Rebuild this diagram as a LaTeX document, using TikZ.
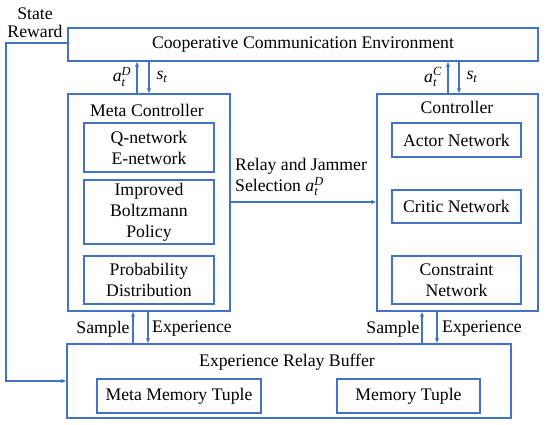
\documentclass[tikz,border=0pt]{standalone}
\usepackage{amsmath}
\usepackage{fontspec}
\setmainfont{LiberationSerif}[Extension=.ttf,UprightFont=*-Regular,ItalicFont=*-Italic,BoldFont=*-Bold,BoldItalicFont=*-BoldItalic]
\usetikzlibrary{arrows.meta,calc}
\definecolor{lineblue}{RGB}{68,114,196}
\begin{document}
\begin{tikzpicture}[x=1pt,y=-1pt,
  font=\rmfamily\fontsize{17.7}{21}\selectfont,
  box/.style={draw=lineblue,line width=1.2pt,rectangle,inner sep=0pt,align=center},
  arr/.style={draw=lineblue,line width=1.2pt,-{Latex[length=5pt,width=4.5pt]}},
  lbl/.style={inner sep=0pt,align=center}]
\useasboundingbox (0,0) rectangle (550,425);
% boxes
\node[box,minimum width=470pt,minimum height=33pt] (env) at (303,44.5) {Cooperative Communication Environment};
\node[box,minimum width=162pt,minimum height=217pt] (meta) at (149,202.5) {};
\node[lbl] (metat) at (147,110) {Meta Controller};
\node[box,minimum width=130pt,minimum height=49pt] (qnet) at (149,147.5) {Q-network\\E-network};
\node[box,minimum width=130pt,minimum height=64pt] (boltz) at (149,212) {Improved\\Boltzmann\\Policy};
\node[box,minimum width=130pt,minimum height=48pt] (prob) at (149,280) {Probability\\Distribution};
\node[box,minimum width=161pt,minimum height=217pt] (ctrl) at (457.5,202.5) {};
\node[lbl] (ctrlt) at (457,107) {Controller};
\node[box,minimum width=129pt,minimum height=34pt] (actor) at (456.5,140) {Actor Network};
\node[box,minimum width=129pt,minimum height=33pt] (critic) at (456.5,206.5) {Critic Network};
\node[box,minimum width=129pt,minimum height=48pt] (cons) at (456.5,280) {Constraint\\Network};
\node[box,minimum width=444pt,minimum height=74pt] (buf) at (289,381) {};
\node[lbl] (buft) at (287,362) {Experience Relay Buffer};
\node[box,minimum width=164pt,minimum height=34pt] (mmem) at (179,396) {Meta Memory Tuple};
\node[box,minimum width=143pt,minimum height=34pt] (mem) at (408.5,396) {Memory Tuple};
% top arrows
\draw[arr] ([xshift=-12pt]meta.north) -- ([xshift=-12pt]meta.north |- env.south);
\draw[arr] (meta.north |- env.south) -- (meta.north);
\draw[arr] ([xshift=-9.5pt]ctrl.north) -- ([xshift=-9.5pt]ctrl.north |- env.south);
\draw[arr] ([xshift=1.5pt]ctrl.north |- env.south) -- ([xshift=1.5pt]ctrl.north);
\node[lbl] (aD) at (122,77) {$\textit{a}_{\textit{t}}^{\textit{D}}$};
\node[lbl] (s1) at (162,77) {$\textit{s}_{\textit{t}}$};
\node[lbl] (aC) at (433,77) {$\textit{a}_{\textit{t}}^{\textit{C}}$};
\node[lbl] (s2) at (472,77) {$\textit{s}_{\textit{t}}$};
% middle arrow
\draw[arr] (meta.east |- 0,202) -- (ctrl.west |- 0,202);
\node[lbl,anchor=west,align=left] (rel) at (235,177) {Relay and Jammer\\Selection $\textit{a}_{\textit{t}}^{\textit{D}}$};
% bottom arrows
\draw[arr] (133,0 |- buf.north) -- (133,0 |- meta.south);
\draw[arr] (148,0 |- meta.south) -- (148,0 |- buf.north);
\draw[arr] (422,0 |- buf.north) -- (422,0 |- ctrl.south);
\draw[arr] (437,0 |- ctrl.south) -- (437,0 |- buf.north);
\node[lbl] (sm1) at (103,329) {Sample};
\node[lbl] (ex1) at (192,329) {Experience};
\node[lbl] (sm2) at (393,329) {Sample};
\node[lbl] (ex2) at (482,329) {Experience};
% feedback
\coordinate (fb1) at (6,43);
\coordinate (fb2) at (6,381);
\draw[arr] (env.west |- fb1) -- (fb1) -- (fb2) -- (buf.west);
\node[lbl] (st1) at (35,14) {State};
\node[lbl] (st2) at (35,31) {Reward};
\end{tikzpicture}
\end{document}
